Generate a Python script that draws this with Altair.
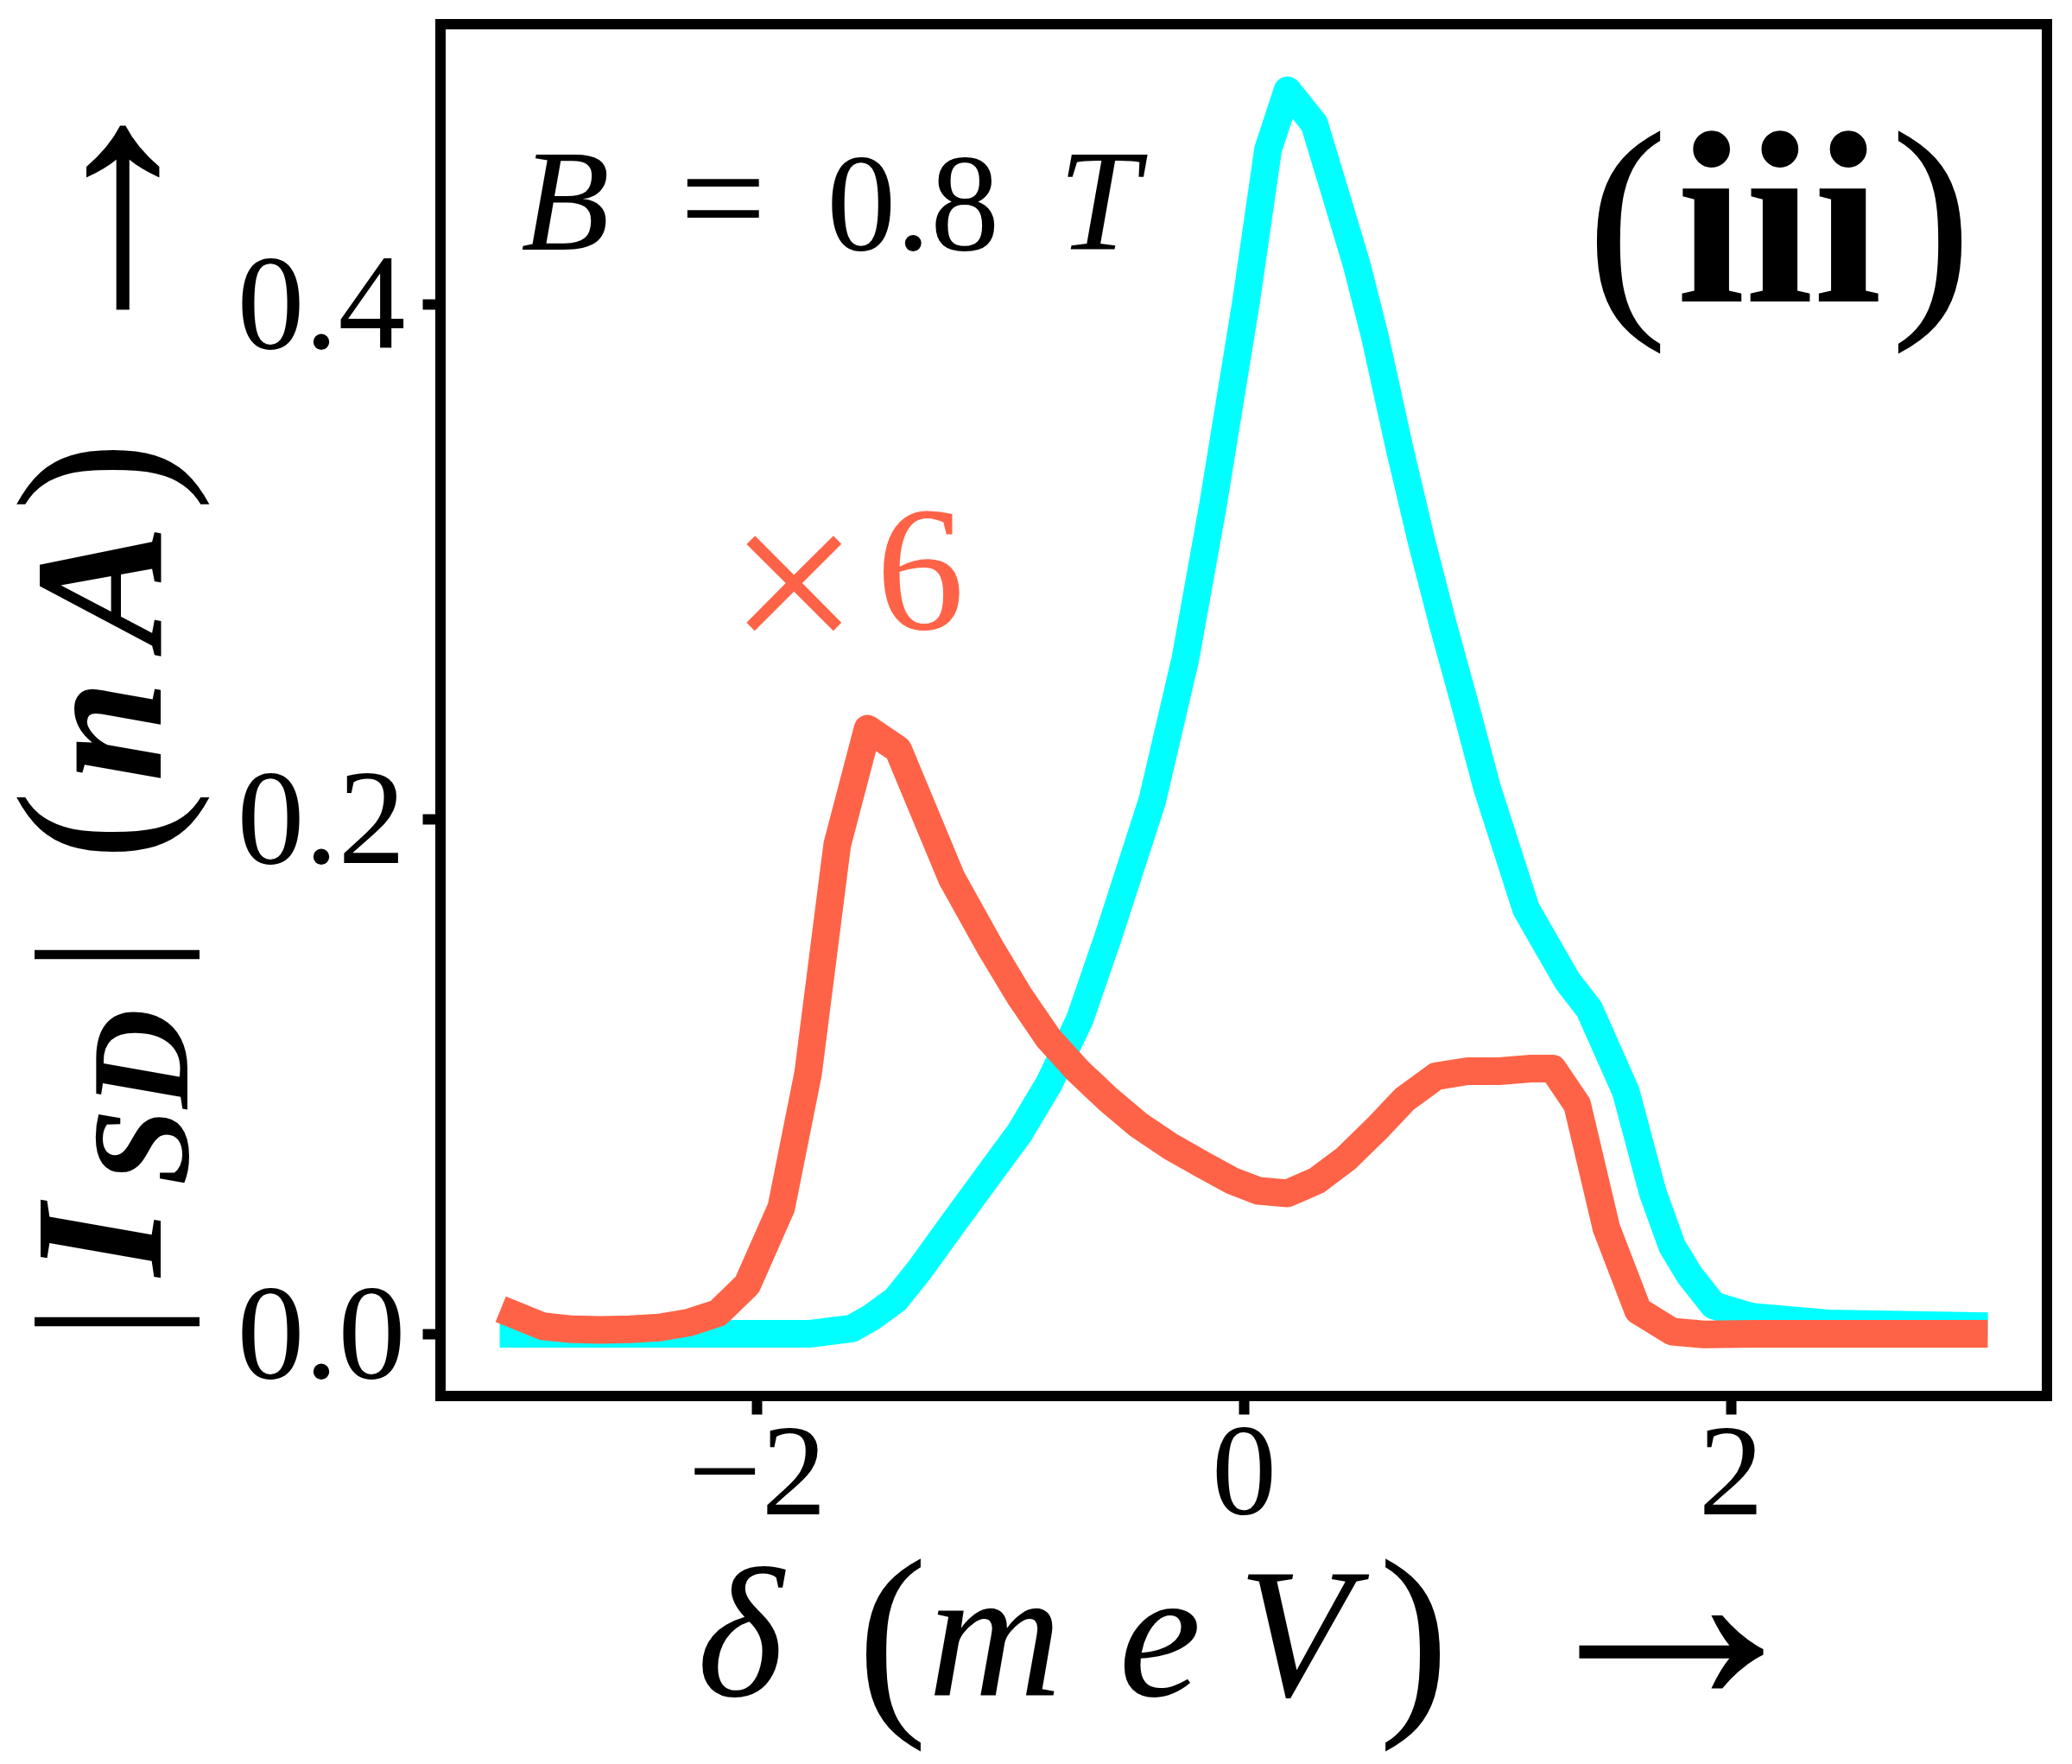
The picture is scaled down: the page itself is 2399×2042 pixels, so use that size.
import altair as alt
import pandas as pd

# ---- data ----
cyan_x = [-3.0, -1.78, -1.61, -1.53, -1.43, -1.33, -1.20, -1.023, -0.923, -0.799,
          -0.674, -0.556, -0.376, -0.24, -0.126, 0.01, 0.10, 0.18, 0.29, 0.37,
          0.465, 0.54, 0.64, 0.73, 0.82, 0.91, 1.00, 1.16, 1.33, 1.42,
          1.57, 1.68, 1.76, 1.83, 1.93, 2.08, 2.4, 3.0]
cyan_y = [0.0, 0.0, 0.002, 0.0063, 0.0132, 0.025, 0.042, 0.0649, 0.0777, 0.0973,
          0.122, 0.1544, 0.207, 0.262, 0.322, 0.401, 0.460, 0.483, 0.470, 0.445,
          0.415, 0.387, 0.344, 0.308, 0.275, 0.244, 0.212, 0.165, 0.137, 0.126,
          0.094, 0.055, 0.034, 0.023, 0.011, 0.0067, 0.004, 0.003]

orange_x = [-3.0, -2.88, -2.76, -2.64, -2.52, -2.40, -2.28, -2.16, -2.04, -1.90,
            -1.79, -1.67, -1.545, -1.42, -1.20, -1.041, -0.92, -0.802, -0.68, -0.554,
            -0.432, -0.30, -0.166, -0.05, 0.06, 0.18, 0.30, 0.42, 0.55, 0.66,
            0.79, 0.92, 1.05, 1.18, 1.27, 1.37, 1.49, 1.62, 1.76, 1.89, 2.1, 3.0]
orange_y = [0.0075, 0.0029, 0.0017, 0.0015, 0.0017, 0.0024, 0.0043, 0.008, 0.019, 0.049,
            0.101, 0.190, 0.235, 0.227, 0.177, 0.150, 0.131, 0.1147, 0.102, 0.0908,
            0.0811, 0.0727, 0.0655, 0.0595, 0.0555, 0.0545, 0.0595, 0.068, 0.080, 0.091,
            0.100, 0.102, 0.102, 0.103, 0.103, 0.089, 0.041, 0.009, 0.0008, -0.0003, 0.0, 0.0]

x_ticks = [-2, 0, 2]
y_ticks = [0.0, 0.2, 0.4]
x_domain = [-3.3, 3.3]
y_domain = [-0.0242, 0.5087]

y_title_parts = ["|", "I", "SD", "|", "(", "n", "A", ")", "\u2192"]
x_title_parts = ["\u03b4", "(", "m", "e", "V", ")", "\u2192"]
field_parts = ["B", "=", "0.8", "T"]
scale_parts = ["\u00d7", "6"]
panel_parts = ["(", "iii", ")"]

CYAN = "#00FFFF"
TOMATO = "#FF6347"
SERIF = "Liberation Serif"
W, H = 1860, 1588

xs = alt.Scale(domain=x_domain, nice=False, zero=False)
ys = alt.Scale(domain=y_domain, nice=False, zero=False)

xaxis = alt.Axis(values=x_ticks, format="d", title=None, labelPadding=115,
                 labelBaseline="alphabetic", labelAlign="center", labelFontSize=150)
yaxis = alt.Axis(values=y_ticks, format=".1f", title=None, labelPadding=20,
                 labelBaseline="alphabetic", labelAlign="right", labelOffset=51,
                 labelFontSize=156)

cyan_df = pd.DataFrame({"delta": cyan_x, "I": cyan_y})
orange_df = pd.DataFrame({"delta": orange_x, "I": orange_y})

line_style = dict(strokeWidth=32, strokeCap="square", strokeJoin="round")

cyan = alt.Chart(cyan_df).mark_line(color=CYAN, **line_style).encode(
    x=alt.X("delta:Q", scale=xs, axis=xaxis),
    y=alt.Y("I:Q", scale=ys, axis=yaxis),
    order="delta:Q",
)
orange = alt.Chart(orange_df).mark_line(color=TOMATO, **line_style).encode(
    x=alt.X("delta:Q", scale=xs, axis=xaxis),
    y=alt.Y("I:Q", scale=ys, axis=yaxis),
    order="delta:Q",
)


def pixel_text(s, px, py, size, style="normal", weight="normal", angle=0, color="black"):
    return alt.Chart(pd.DataFrame({"t": [s]})).mark_text(
        font=SERIF, fontSize=size, fontStyle=style, fontWeight=weight, angle=angle,
        align="center", baseline="alphabetic", color=color,
    ).encode(x=alt.value(px), y=alt.value(py), text="t:N")


def data_text(s, xd, yd, size, style="normal", weight="normal", color="black"):
    return alt.Chart(pd.DataFrame({"t": [s]})).mark_text(
        font=SERIF, fontSize=size, fontStyle=style, fontWeight=weight,
        align="center", baseline="alphabetic", color=color,
    ).encode(x=alt.XDatum(xd, scale=xs), y=alt.YDatum(yd, scale=ys), text="t:N")


# y-axis title pieces, rotated (reading bottom to top)
y_layout = [  # (x, y, size, style, weight)
    (-324, 1502, 210, "normal", "normal"),
    (-324, 1408, 212, "italic", "bold"),
    (-293, 1242, 160, "italic", "bold"),
    (-324, 1077, 210, "normal", "normal"),
    (-320, 928, 245, "normal", "normal"),
    (-324, 818, 212, "italic", "bold"),
    (-324, 650, 212, "italic", "bold"),
    (-320, 523, 245, "normal", "normal"),
    (-308, 224, 360, "normal", "normal"),
]
y_title = [pixel_text(s, px, py, sz, st, wt, angle=270)
           for s, (px, py, sz, st, wt) in zip(y_title_parts, y_layout)]

# x-axis title pieces
x_layout = [
    (347, 1935, 215, "italic", "normal"),
    (523, 1947, 245, "normal", "normal"),
    (642, 1935, 215, "italic", "normal"),
    (833, 1935, 215, "italic", "normal"),
    (989, 1935, 215, "italic", "normal"),
    (1127, 1947, 245, "normal", "normal"),
    (1425, 1944, 360, "normal", "normal"),
]
x_title = [pixel_text(s, px, py, sz, st, wt)
           for s, (px, py, sz, st, wt) in zip(x_title_parts, x_layout)]

# annotations in data coordinates
field_layout = [(-2.787, 0.421, 168, "italic", "normal"), (-2.139, 0.421, 178, "normal", "normal"),
                (-1.358, 0.421, 160, "normal", "normal"), (-0.596, 0.421, 168, "italic", "normal")]
scale_layout = [(-1.848, 0.2614, 270, "normal", "normal"), (-1.329, 0.2737, 205, "normal", "normal")]
panel_layout = [(1.575, 0.401, 285, "normal", "normal"), (2.2, 0.401, 285, "normal", "bold"),
                (2.825, 0.401, 285, "normal", "normal")]

notes = [data_text(s, xd, yd, sz, st, wt) for s, (xd, yd, sz, st, wt) in zip(field_parts, field_layout)]
notes += [data_text(s, xd, yd, sz, st, wt, color=TOMATO)
          for s, (xd, yd, sz, st, wt) in zip(scale_parts, scale_layout)]
notes += [data_text(s, xd, yd, sz, st, wt) for s, (xd, yd, sz, st, wt) in zip(panel_parts, panel_layout)]

chart = alt.layer(cyan, orange, *y_title, *x_title, *notes).properties(
    width=W, height=H,
    padding={"left": 502, "top": 20, "right": 20, "bottom": 415},
    autosize=alt.AutoSizeParams(type="none"),
).configure_view(
    stroke="black", strokeWidth=12,
).configure_axis(
    grid=False, domain=False, ticks=True, tickSize=21, tickWidth=12, tickColor="black",
    labelFont=SERIF, labelColor="black", labelLimit=0,
    labelOverlap=False, labelFlush=False, labelBound=False,
)

chart.save("out.html", embed_options={"renderer": "svg", "actions": False})
